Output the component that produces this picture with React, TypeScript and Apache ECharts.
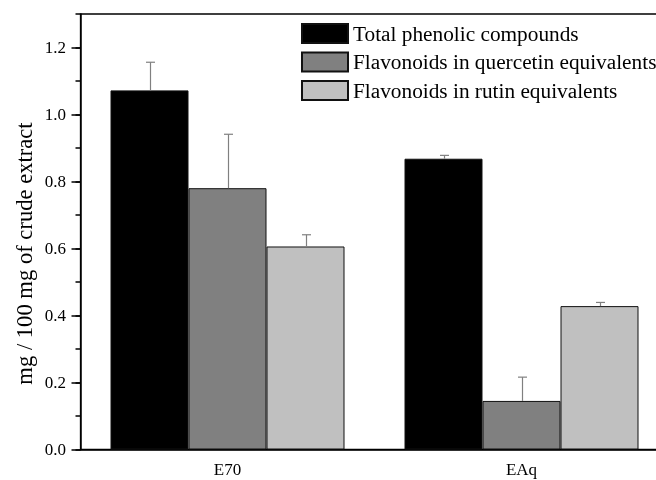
import React, { useEffect, useRef } from "react";
import * as echarts from "echarts";

const categories = ["E70", "EAq"];
const seriesNames = [
  "Total phenolic compounds",
  "Flavonoids in quercetin equivalents",
  "Flavonoids in rutin equivalents",
];
const totalPhenolic = [1.072, 0.868];
const flavQuercetin = [0.78, 0.145];
const flavRutin = [0.606, 0.428];
const errTotal = [0.084, 0.01];
const errQuercetin = [0.161, 0.071];
const errRutin = [0.035, 0.011];
const yMajorTicks = [0, 0.2, 0.4, 0.6, 0.8, 1.0, 1.2];

const colors = ["#000000", "#808080", "#c0c0c0"];
const FONT = "Liberation Serif, Times New Roman, serif";
const BAR_W = 78;

export default function App() {
  const ref = useRef<HTMLDivElement>(null);
  useEffect(() => {
    if (!ref.current) return;
    const chart = echarts.init(ref.current, null, { renderer: "svg" });
    const values = [totalPhenolic, flavQuercetin, flavRutin];
    const errs = [errTotal, errQuercetin, errRutin];
    const offsets = [-BAR_W, 0, BAR_W];

    const barSeries = values.map((vals, i) => ({
      name: seriesNames[i],
      type: "bar",
      data: vals,
      barWidth: BAR_W,
      barGap: "0%",
      itemStyle: { color: colors[i], borderColor: "#111", borderWidth: 1 },
      z: 2,
    }));

    const errSeries = errs.map((e, i) => ({
      type: "custom",
      data: categories.map((_, ci) => [ci, values[i][ci], e[ci]]),
      z: 3,
      silent: true,
      renderItem: (params: any, api: any) => {
        const top = api.coord([api.value(0), api.value(1) + api.value(2)]);
        const base = api.coord([api.value(0), api.value(1)]);
        const x = Math.round(top[0] + offsets[i]) + 0.5;
        return {
          type: "group",
          children: [
            {
              type: "line",
              shape: { x1: x, y1: base[1], x2: x, y2: top[1] },
              style: { stroke: "#808080", lineWidth: 1.2 },
            },
            {
              type: "line",
              shape: { x1: x - 4.5, y1: top[1], x2: x + 4.5, y2: top[1] },
              style: { stroke: "#808080", lineWidth: 1.2 },
            },
          ],
        };
      },
    }));

    chart.setOption({
      animation: false,
      grid: {
        left: 80.5,
        top: 14,
        width: 588,
        height: 435.5,
        outerBoundsMode: "none",
        containLabel: false,
        show: true,
        borderColor: "#000",
        borderWidth: 1.3,
        backgroundColor: "transparent",
      },
      legend: {
        data: seriesNames,
        orient: "vertical",
        left: 301,
        top: 23,
        padding: 0,
        icon: "rect",
        itemWidth: 46,
        itemHeight: 19,
        itemGap: 7.5,
        textStyle: { fontFamily: FONT, fontSize: 21.3, color: "#000", lineHeight: 19 },
      },
      xAxis: [
        {
          type: "category",
          data: categories,
          axisLine: { lineStyle: { color: "#000", width: 1.5 } },
          axisTick: { alignWithLabel: true, length: 10, lineStyle: { color: "#000", width: 1.5 } },
          axisLabel: { fontFamily: FONT, fontSize: 17, color: "#000", margin: 15, lineHeight: 10 },
        },
        {
          type: "category",
          data: categories,
          position: "bottom",
          axisLine: { show: false },
          axisTick: { length: 5, lineStyle: { color: "#000", width: 1.5 } },
          axisLabel: { show: false },
        },
      ],
      yAxis: [
        {
          type: "value",
          min: 0,
          max: 1.3,
          interval: 0.1,
          splitLine: { show: false },
          axisLine: { show: true, lineStyle: { color: "#000", width: 1.5 } },
          axisTick: {
            show: true,
            length: 9,
            customValues: yMajorTicks,
            lineStyle: { color: "#000", width: 1.5 },
          },
          axisLabel: {
            customValues: yMajorTicks,
            formatter: (v: number) => v.toFixed(1),
            fontFamily: FONT,
            fontSize: 17,
            color: "#000",
            margin: 14.5,
          },
        },
        {
          type: "value",
          min: 0,
          max: 1.3,
          interval: 0.1,
          position: "left",
          splitLine: { show: false },
          axisLine: { show: false },
          axisTick: { show: true, length: 5, lineStyle: { color: "#000", width: 1.5 } },
          axisLabel: { show: false },
        },
      ],
      graphic: [
        {
          type: "text",
          x: 24,
          y: 253.5,
          rotation: Math.PI / 2,
          style: {
            text: "mg / 100 mg of crude extract",
            fontFamily: FONT,
            fontSize: 22.6,
            fill: "#000",
            align: "center",
            verticalAlign: "middle",
          },
        },
      ],
      series: [...barSeries, ...errSeries],
    });
    return () => chart.dispose();
  }, []);
  return (
    <div
      ref={ref}
      style={{ position: "fixed", left: 0, top: 0, width: 656, height: 480, overflow: "hidden" }}
    />
  );
}
